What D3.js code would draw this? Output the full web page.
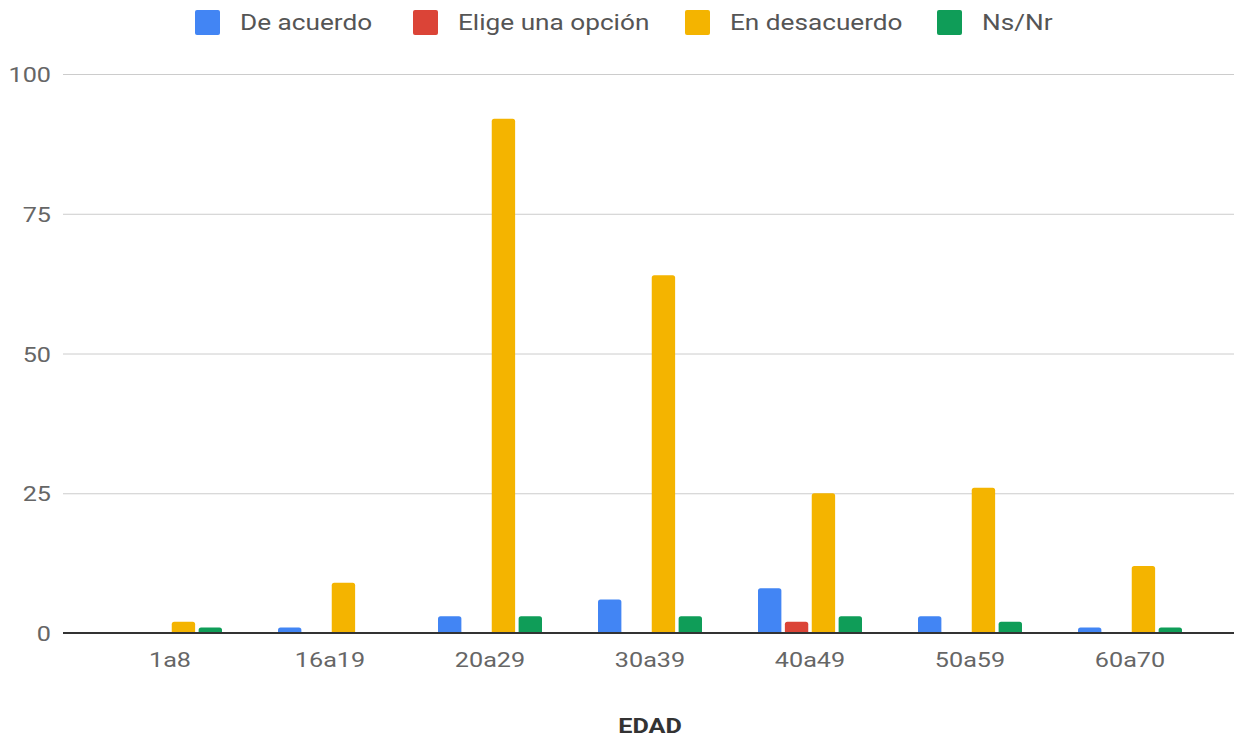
<!DOCTYPE html>
<html><head><meta charset="utf-8">
<script src="https://cdn.jsdelivr.net/npm/d3@7"></script>
<style>body{margin:0;background:#fff;} text{font-family:Roboto,"Noto Sans",sans-serif;}</style>
</head><body><svg id="c" width="1234" height="740"></svg>
<script>
const categories = ["1a8","16a19","20a29","30a39","40a49","50a59","60a70"];
const series = ["De acuerdo","Elige una opción","En desacuerdo","Ns/Nr"];
const deAcuerdo   = [0, 1, 3, 6, 8, 3, 1];
const eligeOpcion = [0, 0, 0, 0, 2, 0, 0];
const enDesacuerdo= [2, 9, 92, 64, 25, 26, 12];
const nsNr        = [1, 0, 3, 3, 3, 2, 1];
const yTicks = [0, 25, 50, 75, 100];
const colors = ["#4285F4","#DB4437","#F4B400","#0F9D58"];
const xTitle = "EDAD";

const SX = 1.2; // horizontal stretch of text seen in reference
const values = [deAcuerdo, eligeOpcion, enDesacuerdo, nsNr];
const svg = d3.select("#c");
const y = d3.scaleLinear().domain([0,100]).range([633,74]);
const x0 = d3.scaleBand().domain(categories).range([90,1210]).paddingInner(0.35).paddingOuter(0.175);
const x1 = d3.scaleBand().domain(series).range([0, x0.bandwidth()]).paddingInner(0.13);
const color = d3.scaleOrdinal().domain(series).range(colors);

function stretchedText(g, x, yy, txt, anchor, sx) {
  return g.append("text").attr("transform",`translate(${x},${yy}) scale(${sx||SX},1)`)
    .attr("text-anchor", anchor).text(txt);
}

// grid
const yAxis = d3.axisLeft(y).tickValues(yTicks).tickSize(-(1234-63)).tickFormat("");
const gy = svg.append("g").attr("transform","translate(63,0)").call(yAxis);
gy.select(".domain").remove();
gy.selectAll(".tick line").attr("stroke","#cccccc").attr("stroke-width",1);
gy.selectAll(".tick").each(function(d){
  stretchedText(d3.select(this), -12, 7.5, d, "end").attr("fill","#666").style("font-size","21px");
});

// bars
const rr = 2.5;
function barPath(xp, w, yv) {
  const top = y(yv), base = y(0);
  const h = base - top;
  if (h <= 0) return "";
  const r = Math.min(rr, h, w/2);
  return `M${xp},${base}V${top+r}Q${xp},${top} ${xp+r},${top}H${xp+w-r}Q${xp+w},${top} ${xp+w},${top+r}V${base}Z`;
}
categories.forEach((c, i) => {
  series.forEach((s, j) => {
    const v = values[j][i];
    if (v > 0) {
      svg.append("path")
        .attr("d", barPath(x0(c) + x1(s), x1.bandwidth(), v))
        .attr("fill", color(s));
    }
  });
});

// baseline
svg.append("line").attr("x1",63).attr("x2",1234).attr("y1",y(0)).attr("y2",y(0))
  .attr("stroke","#333").attr("stroke-width",2);

// x axis labels
const xAxis = d3.axisBottom(x0).tickSize(0).tickFormat("");
const gx = svg.append("g").attr("transform",`translate(0,${y(0)})`).call(xAxis);
gx.select(".domain").remove();
gx.selectAll(".tick").each(function(d){
  stretchedText(d3.select(this), 0, 34, d, "middle").attr("fill","#666").style("font-size","21px");
});

stretchedText(svg, 650, 733, xTitle, "middle")
  .attr("fill","#333").style("font-size","21px").style("font-weight","bold");

// legend
const legendX = [195, 413, 685, 937];
const lg = svg.append("g");
series.forEach((s, j) => {
  lg.append("rect").attr("x",legendX[j]).attr("y",10).attr("width",25).attr("height",25)
    .attr("rx",2).attr("fill",color(s));
  stretchedText(lg, legendX[j]+45, 30, s, "start", 1.19).attr("fill","#555").style("font-size","22px");
});
</script></body></html>
